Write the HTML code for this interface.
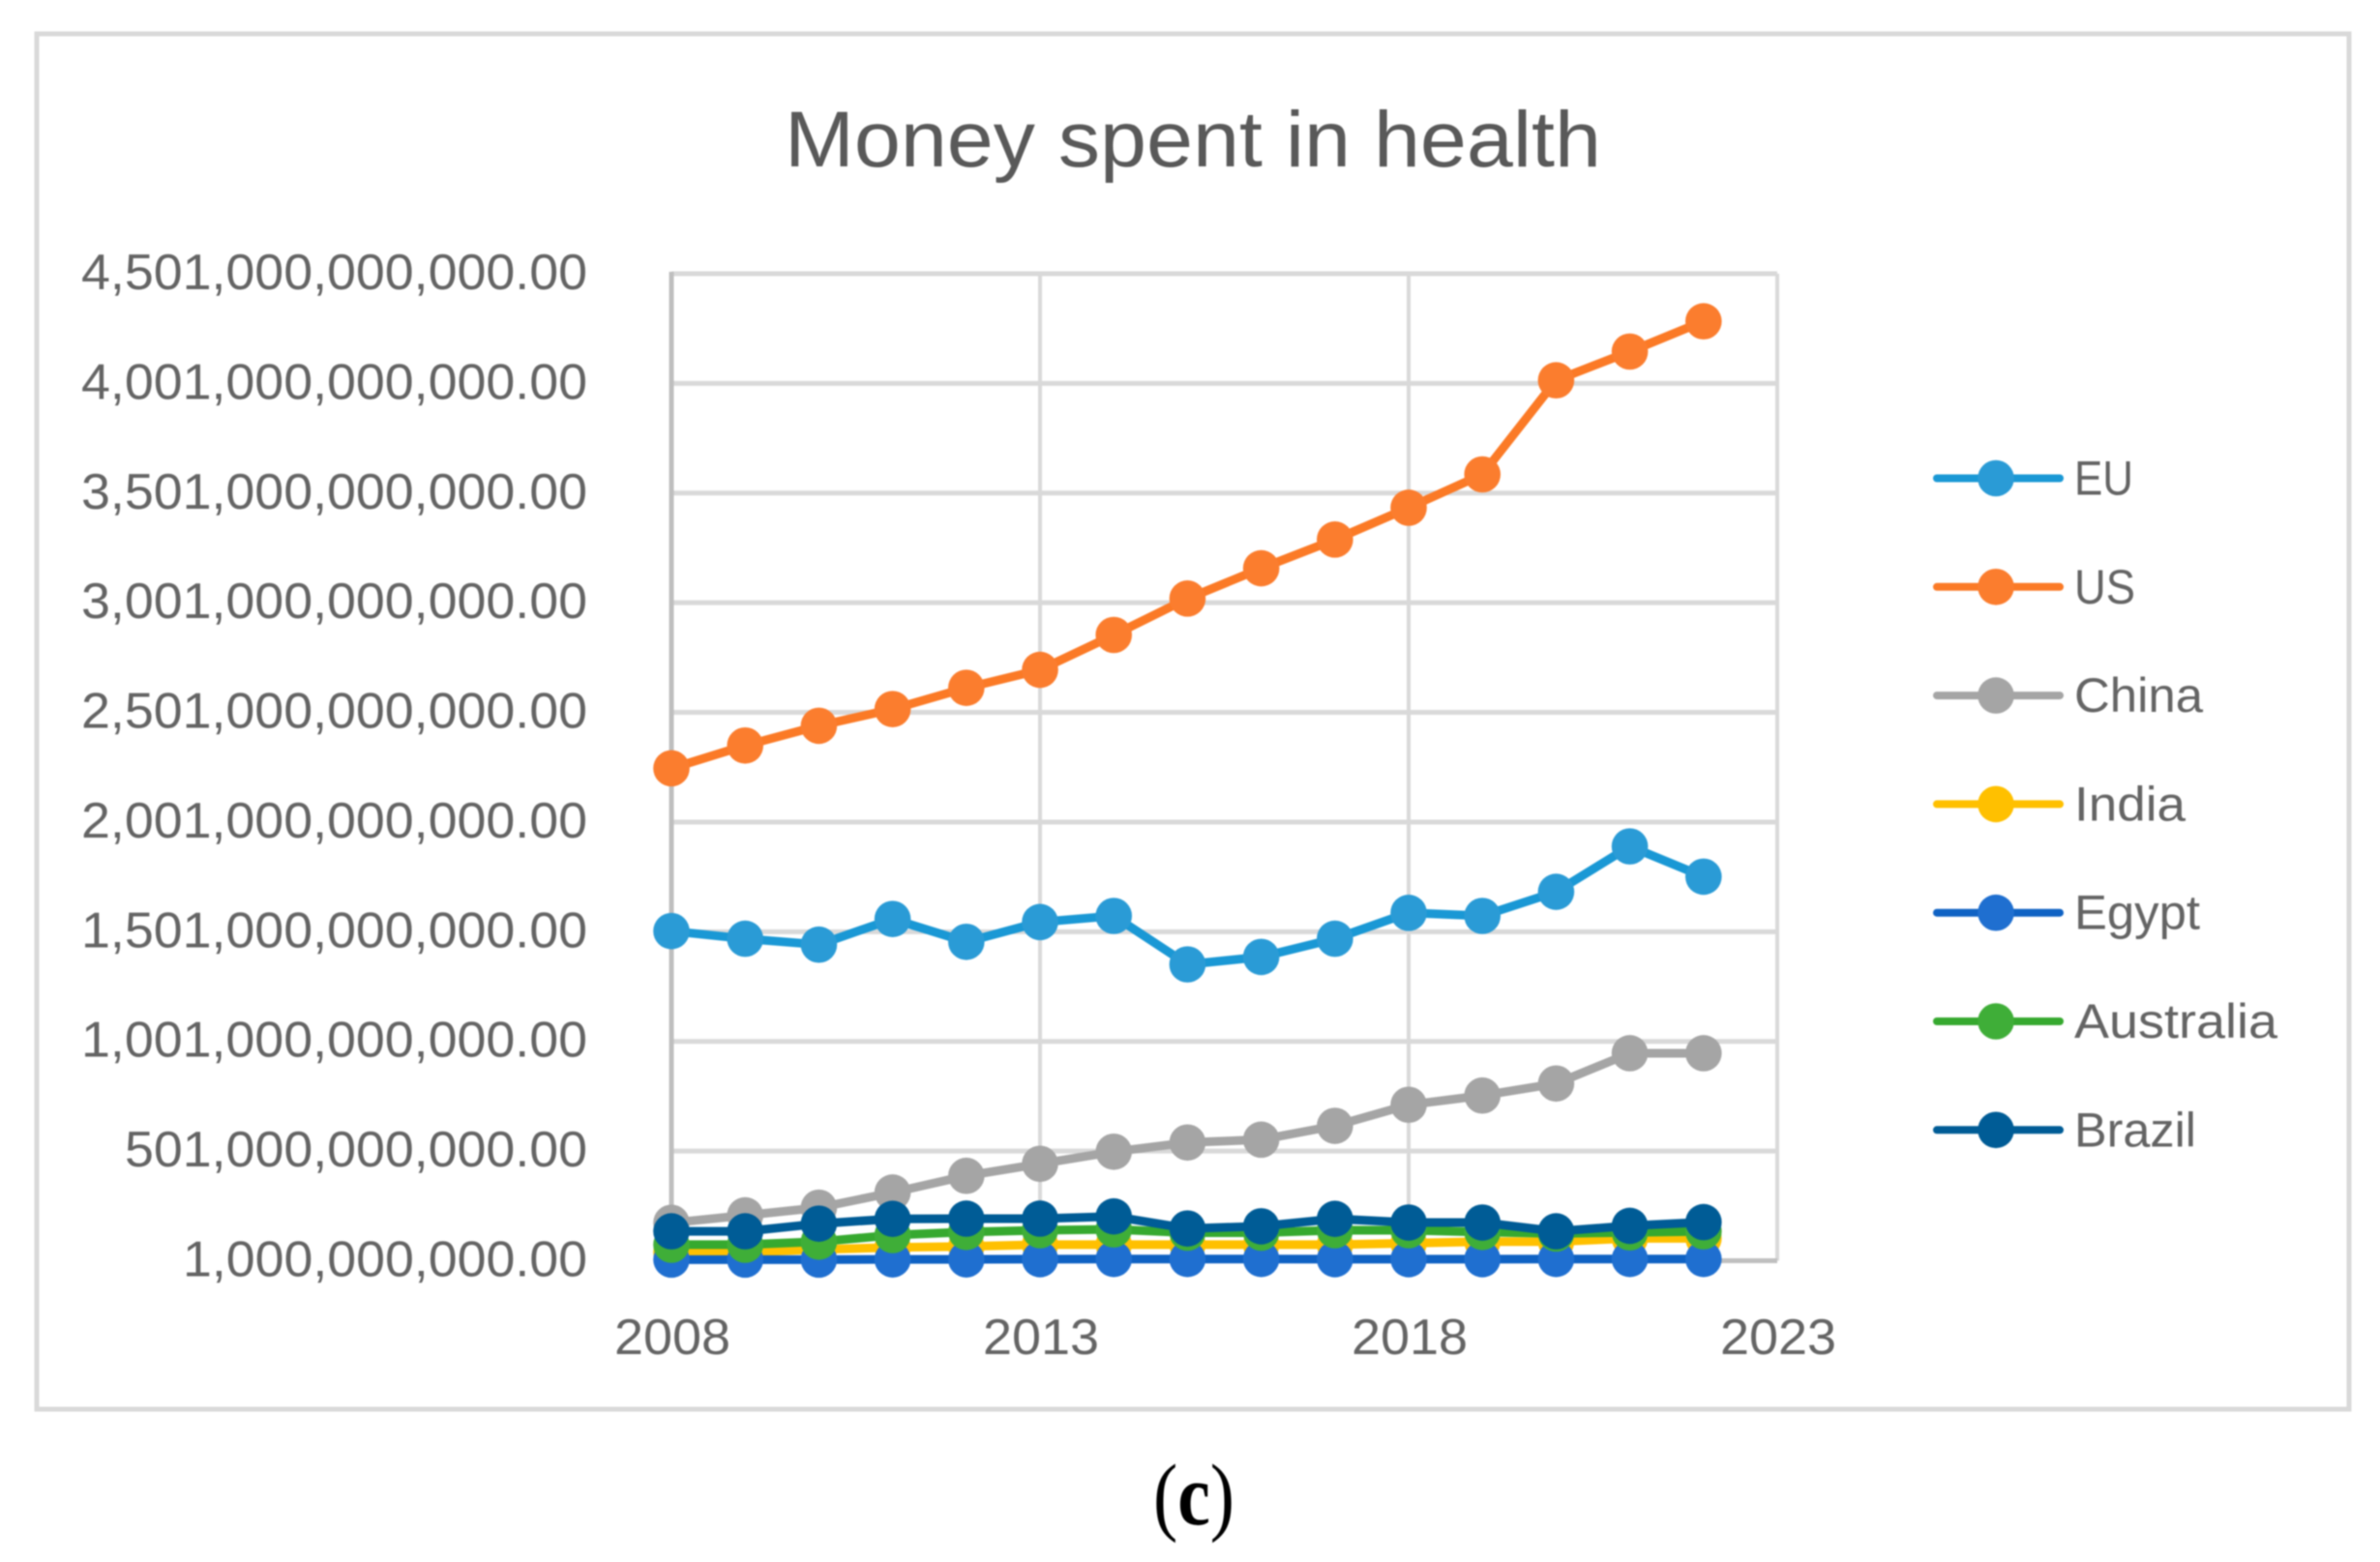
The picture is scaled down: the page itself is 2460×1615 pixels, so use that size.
<!DOCTYPE html>
<html lang="en">
<head>
<meta charset="utf-8">
<title>Money spent in health</title>
<style>
  html, body { margin: 0; padding: 0; background: #fff; width: 2460px; height: 1615px; overflow: hidden; }
  svg { display: block; filter: blur(0.7px); }
  text { font-family: "Liberation Sans", sans-serif; fill: #646464; }
</style>
</head>
<body>
<svg id="chart" xmlns="http://www.w3.org/2000/svg" width="2460" height="1615" viewBox="0 0 2460 1615">
  <rect x="0" y="0" width="2460" height="1615" fill="#ffffff"/>
  <rect x="38" y="35" width="2390" height="1422" fill="#ffffff" stroke="#d9d9d9" stroke-width="5"/>
  <text x="1233" y="172" font-size="82" text-anchor="middle" textLength="844" lengthAdjust="spacingAndGlyphs" style="fill:#595959">Money spent in health</text>
  <g id="grid"></g>
  <g id="axes"></g>
  <g id="series"></g>
  <g id="legend"></g>
  <text x="1234" y="1576" font-size="90" text-anchor="middle" textLength="84" lengthAdjust="spacingAndGlyphs" style="font-family:'Liberation Serif',serif;fill:#000000">(<tspan font-weight="700">c</tspan>)</text>
</svg>
<script>
// Chart data (values in billions)
const years = [2008,2009,2010,2011,2012,2013,2014,2015,2016,2017,2018,2019,2020,2021,2022];
const euValues = [1504,1469,1442,1559,1455,1545,1573,1352,1386,1469,1587,1573,1683,1890,1752];
const usValues = [2246,2350,2440,2516,2613,2695,2854,3020,3158,3289,3434,3586,4015,4146,4284];
const chinaValues = [174,208,243,312,388,443,498,540,553,616,712,754,809,947,947];
const indiaValues = [40,40,52,62,66,74,74,74,74,74,81,88,88,103,103];
const egyptValues = [6,6,6,7,7,8,9,9,9,8,8,8,9,9,9];
const australiaValues = [74,74,88,118,132,140,144,129,129,140,140,132,125,130,135];
const brazilValues = [135,135,170,192,193,193,203,148,158,192,175,175,135,160,177];
const seriesNames = ["EU","US","China","India","Egypt","Australia","Brazil"];
const yTickValues = [1,501,1001,1501,2001,2501,3001,3501,4001,4501];
const yTickLabels = ["1,000,000,000.00","501,000,000,000.00","1,001,000,000,000.00","1,501,000,000,000.00","2,001,000,000,000.00","2,501,000,000,000.00","3,001,000,000,000.00","3,501,000,000,000.00","4,001,000,000,000.00","4,501,000,000,000.00"];
const xTickValues = [2008,2013,2018,2023];

const seriesValues = [euValues,usValues,chinaValues,indiaValues,egyptValues,australiaValues,brazilValues];
const lineColors = ["#1a98d5","#fb7a26","#a5a5a5","#ffc000","#0f62c4","#36a92f","#005c96"];
const markerColors = ["#2a9bd6","#fb7d2e","#a5a5a5","#ffc000","#1f6fd0","#3fae38","#005c96"];
const legendTextWidths = [61,63,133,115,130,210,126];

const NS = "http://www.w3.org/2000/svg";
const xScale = v => 694 + (v - 2008) * (1837 - 694) / 15;
const yScale = v => 1303.5 - (v - 1) * (1303.5 - 283) / 4500;

function make(tag, parent, attrs, text) {
  const el = document.createElementNS(NS, tag);
  for (const k in attrs) el.setAttribute(k, attrs[k]);
  if (text !== undefined) el.textContent = text;
  parent.appendChild(el);
  return el;
}

function labelWidth(label) {
  const digits = label.replace(/[^0-9]/g, "").length;
  return Math.round(digits * 29.9 + (label.length - digits) * 14.8);
}

const gridG = document.getElementById("grid");
const axesG = document.getElementById("axes");
const seriesG = document.getElementById("series");
const legendG = document.getElementById("legend");

// horizontal gridlines and y labels
yTickValues.forEach((v, i) => {
  const y = yScale(v);
  if (i > 0) {
    const g = make("line", gridG, {x1: xScale(2008), x2: xScale(2023), y1: y, y2: y, stroke: "#d9d9d9", "stroke-width": 5});
    
    
  }
  const label = yTickLabels[i];
  const t = make("text", axesG, {x: 607, y: y + 16, "font-size": 52, "text-anchor": "end", textLength: labelWidth(label), lengthAdjust: "spacingAndGlyphs"}, label);
  
  
});

// vertical gridlines and x labels
xTickValues.forEach((v, i) => {
  const x = xScale(v);
  if (i > 0) {
    const g = make("line", gridG, {x1: x, x2: x, y1: yScale(4501), y2: yScale(1), stroke: "#d9d9d9", "stroke-width": 4});
    
    
  }
  const t = make("text", axesG, {x: x + 1, y: 1400, "font-size": 52, "text-anchor": "middle", textLength: 120, lengthAdjust: "spacingAndGlyphs"}, String(v));
  
  
});

// axis lines
const yAxis = make("line", axesG, {x1: xScale(2008), x2: xScale(2008), y1: yScale(4501) - 2, y2: yScale(1) + 2, stroke: "#bfbfbf", "stroke-width": 5});


const xAxis = make("line", axesG, {x1: xScale(2008), x2: xScale(2023), y1: yScale(1), y2: yScale(1), stroke: "#bfbfbf", "stroke-width": 5});



// series
seriesValues.forEach((vals, s) => {
  const pts = vals.map((v, i) => xScale(years[i]).toFixed(1) + "," + yScale(v).toFixed(1)).join(" ");
  const line = make("polyline", seriesG, {points: pts, fill: "none", stroke: lineColors[s], "stroke-width": 9, "stroke-linejoin": "round", "stroke-linecap": "round"});
  
  
  vals.forEach((v, i) => {
    const c = make("circle", seriesG, {cx: xScale(years[i]), cy: yScale(v), r: 18.8, fill: markerColors[s]});
    
    
  });
});

// legend
seriesNames.forEach((name, i) => {
  const y = 494.5 + i * 112.3;
  const line = make("line", legendG, {x1: 2002, x2: 2129, y1: y, y2: y, stroke: lineColors[i], "stroke-width": 8, "stroke-linecap": "round"});
  
  
  const c = make("circle", legendG, {cx: 2063, cy: y, r: 18.8, fill: markerColors[i]});
  
  
  const t = make("text", legendG, {x: 2144, y: y + 17, "font-size": 50, textLength: legendTextWidths[i], lengthAdjust: "spacingAndGlyphs"}, name);
  
  
});
</script>
</body>
</html>
